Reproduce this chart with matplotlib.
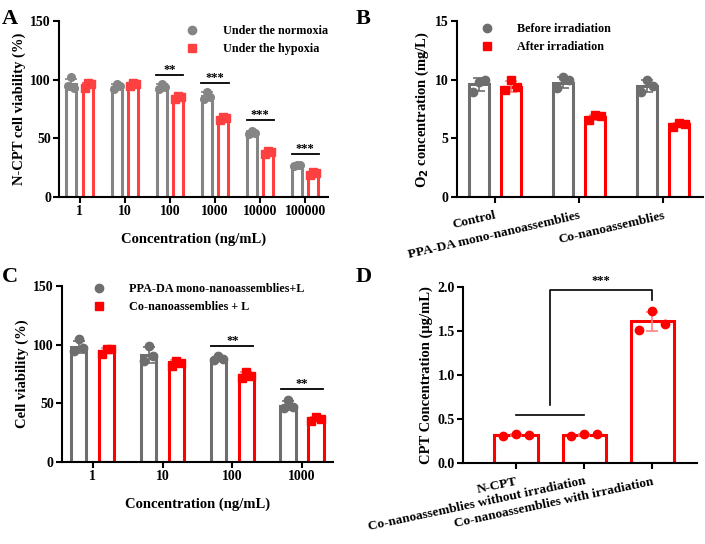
import numpy as np
import matplotlib.pyplot as plt
from matplotlib.lines import Line2D

plt.rcParams['font.family'] = ['Liberation Serif', 'DejaVu Serif']
plt.rcParams['font.weight'] = 'bold'
plt.rcParams['axes.labelweight'] = 'bold'

# ---- panel A data ----
a_cats = ['1', '10', '100', '1000', '10000', '100000']
a_norm_mean = [96, 94, 94, 86, 55, 27]
a_norm_pts = [[95, 102, 93], [92, 96, 95], [92, 96, 94], [84, 90, 85], [54, 56, 55], [26, 27, 27]]
a_hyp_mean = [95, 96, 85, 67, 38, 20]
a_hyp_pts = [[93, 97, 96], [95, 97, 96], [84, 86, 85], [66, 68, 67], [37, 39, 38], [19, 21, 20]]
a_sig = [(2, '**', 104), (3, '***', 97), (4, '***', 66), (5, '***', 37)]

# ---- panel B data ----
b_cats = ['Control', 'PPA-DA mono-nanoassemblies', 'Co-nanoassemblies']
b_before_mean = [9.6, 9.75, 9.5]
b_before_pts = [[9.0, 9.8, 10.0], [9.3, 10.2, 10.0], [9.0, 10.0, 9.5]]
b_after_mean = [9.4, 6.8, 6.2]
b_after_pts = [[9.1, 10.0, 9.4], [6.6, 7.0, 6.9], [6.0, 6.3, 6.2]]

# ---- panel C data ----
c_cats = ['1', '10', '100', '1000']
c_mono_mean = [98, 91, 88, 48]
c_mono_pts = [[95, 105, 97], [86, 99, 90], [87, 90, 88], [46, 53, 47]]
c_co_mean = [95, 85, 74, 37]
c_co_pts = [[92, 96, 96], [82, 86, 84], [72, 77, 73], [35, 38, 37]]
c_sig = [(2, '**', 99), (3, '**', 62)]

# ---- panel D data ----
d_cats = ['N-CPT', 'Co-nanoassemblies without irradiation', 'Co-nanoassemblies with irradiation']
d_mean = [0.32, 0.32, 1.61]
d_pts = [[0.31, 0.33, 0.32], [0.31, 0.33, 0.33], [1.51, 1.73, 1.58]]

GRAY_A, RED_A = '#858585', '#ff4040'
GRAY, RED = '#6e6e6e', '#ff0000'
TICK_FS, LABEL_FS, LEG_FS = 10, 10.5, 8.7


def style_axes(ax):
    for s in ['top', 'right']:
        ax.spines[s].set_visible(False)
    for s in ['left', 'bottom']:
        ax.spines[s].set_linewidth(1.5)
    ax.tick_params(width=1.5, length=4, labelsize=TICK_FS, pad=2)
    for t in ax.get_yticklabels() + ax.get_xticklabels():
        t.set_fontweight('bold')


def bars(ax, x, means, pts, width, color, marker, ms=6, lw=2.2, ecolor=None):
    ax.bar(x, means, width, facecolor='white', edgecolor=color, linewidth=lw, zorder=2)
    sd = [np.std(p, ddof=1) for p in pts]
    ax.errorbar(x, means, yerr=sd, fmt='none', ecolor=ecolor or color,
                elinewidth=1.2, capsize=4, capthick=1.2, zorder=3)
    offs = np.array([-0.3, 0.0, 0.3]) * width
    for xi, p in zip(x, pts):
        ax.plot(xi + offs, p, linestyle='none', marker=marker, color=color,
                markersize=ms, zorder=4)


def sig(ax, x0, x1, y, text, dy):
    ax.plot([x0, x1], [y, y], color='black', lw=1.3)
    ax.text((x0 + x1) / 2, y + dy, text, ha='center', va='bottom', fontsize=9)


def legend(ax, colors, markers, labels, anchor, loc):
    h = [Line2D([], [], ls='none', marker=m, color=c, ms=6) for c, m in zip(colors, markers)]
    ax.legend(h, labels, loc=loc, frameon=False, prop={'size': LEG_FS, 'weight': 'bold'},
              handletextpad=1.5, bbox_to_anchor=anchor)


fig = plt.figure(figsize=(7.05, 5.44), dpi=100)

# ---------- A ----------
axA = fig.add_axes([0.084, 0.638, 0.381, 0.323])
xA = np.arange(len(a_cats))
off, w = 0.18, 0.22
bars(axA, xA - off, a_norm_mean, a_norm_pts, w, GRAY_A, 'o', ms=5.5)
bars(axA, xA + off, a_hyp_mean, a_hyp_pts, w, RED_A, 's', ms=5.5)
for i, t, y in a_sig:
    sig(axA, i - 0.3, i + 0.3, y, t, -1)
axA.set_xlim(-0.45, 5.5)
axA.set_ylim(0, 150)
axA.set_yticks([0, 50, 100, 150])
axA.set_xticks(xA)
axA.set_xticklabels(a_cats)
axA.set_xlabel('Concentration (ng/mL)', fontsize=LABEL_FS, labelpad=10)
axA.set_ylabel('N-CPT cell viability (%)', fontsize=LABEL_FS, labelpad=3)
style_axes(axA)
legend(axA, [GRAY_A, RED_A], ['o', 's'], ['Under the normoxia', 'Under the hypoxia'],
       (1.04, 1.04), 'upper right')
fig.text(0.003, 0.965, 'A', fontsize=16, fontweight='bold', va='center')

# ---------- B ----------
axB = fig.add_axes([0.648, 0.638, 0.349, 0.323])
xB = np.arange(len(b_cats))
off, w = 0.19, 0.235
bars(axB, xB - off, b_before_mean, b_before_pts, w, GRAY, 'o', ms=6)
bars(axB, xB + off, b_after_mean, b_after_pts, w, RED, 's', ms=6, ecolor='#ff8080')
axB.set_xlim(-0.45, 2.47)
axB.set_ylim(0, 15)
axB.set_yticks([0, 5, 10, 15])
axB.set_xticks(xB)
style_axes(axB)
axB.set_xticklabels(b_cats, rotation=13, ha='right', rotation_mode='anchor',
                    fontsize=9.6, fontweight='bold')
axB.tick_params(axis='x', pad=5)
axB.set_ylabel('O$_\\mathbf{2}$ concentration (mg/L)', fontsize=LABEL_FS, labelpad=3)
legend(axB, [GRAY, RED], ['o', 's'], ['Before irradiation', 'After irradiation'],
       (0.03, 1.05), 'upper left')
fig.text(0.505, 0.965, 'B', fontsize=16, fontweight='bold', va='center')

# ---------- C ----------
axC = fig.add_axes([0.088, 0.151, 0.384, 0.323])
xC = np.arange(len(c_cats))
off, w = 0.2, 0.22
bars(axC, xC - off, c_mono_mean, c_mono_pts, w, GRAY, 'o', ms=6)
bars(axC, xC + off, c_co_mean, c_co_pts, w, RED, 's', ms=6, ecolor='#ff8080')
for i, t, y in c_sig:
    sig(axC, i - 0.3, i + 0.3, y, t, -1)
axC.set_xlim(-0.44, 3.44)
axC.set_ylim(0, 150)
axC.set_yticks([0, 50, 100, 150])
axC.set_xticks(xC)
axC.set_xticklabels(c_cats)
axC.set_xlabel('Concentration (ng/mL)', fontsize=LABEL_FS, labelpad=10)
axC.set_ylabel('Cell viability (%)', fontsize=LABEL_FS, labelpad=3)
style_axes(axC)
legend(axC, [GRAY, RED], ['o', 's'], ['PPA-DA mono-nanoassemblies+L', 'Co-nanoassemblies + L'],
       (0.05, 1.08), 'upper left')
fig.text(0.003, 0.49, 'C', fontsize=16, fontweight='bold', va='center')

# ---------- D ----------
axD = fig.add_axes([0.657, 0.149, 0.332, 0.323])
xD = np.arange(len(d_cats))
bars(axD, xD, d_mean, d_pts, 0.64, RED, 'o', ms=6, ecolor='#ff8080')
axD.plot([0, 1], [0.545, 0.545], color='black', lw=1.2)
axD.plot([0.5, 0.5, 2, 2], [0.66, 1.97, 1.97, 1.86], color='black', lw=1.2)
axD.text(1.25, 2.0, '***', ha='center', va='bottom', fontsize=9)
axD.set_xlim(-0.78, 2.66)
axD.set_ylim(0, 2.0)
axD.set_yticks([0, 0.5, 1.0, 1.5, 2.0])
axD.set_yticklabels(['0.0', '0.5', '1.0', '1.5', '2.0'])
axD.set_xticks(xD)
style_axes(axD)
axD.set_xticklabels(d_cats, rotation=12, ha='right', rotation_mode='anchor',
                    fontsize=9.6, fontweight='bold')
axD.tick_params(axis='x', pad=5)
axD.set_ylabel('CPT Concentration (\u03bcg/mL)', fontsize=LABEL_FS, labelpad=3)
fig.text(0.505, 0.49, 'D', fontsize=16, fontweight='bold', va='center')

fig.savefig('out.png', dpi=100)
